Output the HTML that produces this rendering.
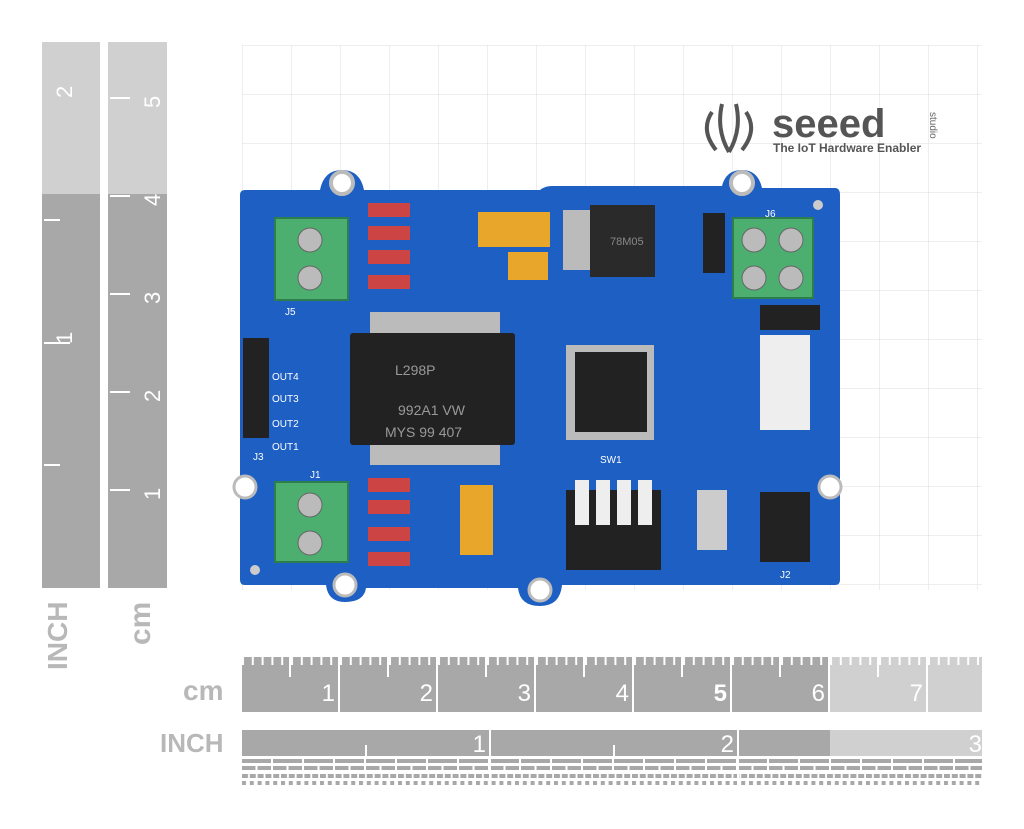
<!DOCTYPE html>
<html><head><meta charset="utf-8"><style>
html,body{margin:0;padding:0;background:#fff;}
svg{display:block}
text{font-family:"Liberation Sans",sans-serif}
</style></head><body>
<svg width="1024" height="829" viewBox="0 0 1024 829" xmlns="http://www.w3.org/2000/svg">
<defs>
<pattern id="grid" x="242" y="45" width="49" height="49" patternUnits="userSpaceOnUse">
<path d="M0 0V49M0 0H49" stroke="#dcdcdc" stroke-width="1" fill="none"/>
</pattern>
<pattern id="cmt" x="242" y="657" width="9.8" height="20" patternUnits="userSpaceOnUse">
<rect x="0" y="0" width="2" height="8" fill="#fff"/>
</pattern>
<pattern id="str" x="242" y="759" width="31" height="6" patternUnits="userSpaceOnUse">
<rect x="0" y="0" width="29" height="4" fill="#a8a8a8"/>
</pattern>
<pattern id="str2" x="242" y="766" width="15.5" height="6" patternUnits="userSpaceOnUse">
<rect x="0" y="0" width="13.5" height="4" fill="#a8a8a8"/>
</pattern>
<pattern id="str3" x="242" y="774" width="7.8" height="12" patternUnits="userSpaceOnUse">
<rect x="0" y="0" width="6" height="4" fill="#a8a8a8"/>
<rect x="0" y="7" width="4" height="4" fill="#a8a8a8"/>
</pattern>
</defs>
<rect width="1024" height="829" fill="#fff"/>
<rect x="242" y="45" width="740" height="545" fill="url(#grid)"/>

<!-- left rulers -->
<rect x="42" y="42" width="58" height="546" fill="#a8a8a8"/>
<rect x="42" y="42" width="58" height="152" fill="#d0d0d0"/>
<rect x="108" y="42" width="59" height="546" fill="#a8a8a8"/>
<rect x="108" y="42" width="59" height="152" fill="#d0d0d0"/>
<g stroke="#fff" stroke-width="2">
<line x1="110" y1="98" x2="130" y2="98"/><line x1="110" y1="196" x2="130" y2="196"/><line x1="110" y1="294" x2="130" y2="294"/><line x1="110" y1="392" x2="130" y2="392"/><line x1="110" y1="490" x2="130" y2="490"/>
<line x1="44" y1="343" x2="70" y2="343"/><line x1="44" y1="465" x2="60" y2="465"/><line x1="44" y1="220" x2="60" y2="220"/>
</g>
<g fill="#fff" font-size="22">
<text x="150" y="118" transform="rotate(-90 150 108)">5</text>
<text x="150" y="216" transform="rotate(-90 150 206)">4</text>
<text x="150" y="314" transform="rotate(-90 150 304)">3</text>
<text x="150" y="412" transform="rotate(-90 150 402)">2</text>
<text x="150" y="510" transform="rotate(-90 150 500)">1</text>
<text x="62" y="108" transform="rotate(-90 62 98)">2</text>
<text x="62" y="354" transform="rotate(-90 62 344)">1</text>
</g>
<text x="0" y="0" font-size="28" font-weight="bold" fill="#b8b8b8" transform="translate(67 670) rotate(-90)">INCH</text>
<text x="0" y="0" font-size="30" font-weight="bold" fill="#b8b8b8" transform="translate(150 645) rotate(-90)">cm</text>

<!-- bottom rulers -->
<text x="183" y="700" font-size="28" font-weight="bold" fill="#b8b8b8">cm</text>
<rect x="242" y="657" width="588" height="55" fill="#a8a8a8"/>
<rect x="830" y="657" width="152" height="55" fill="#d0d0d0"/>
<rect x="242" y="657" width="740" height="10" fill="url(#cmt)"/>
<g stroke="#fff" stroke-width="2">
<line x1="339" y1="657" x2="339" y2="712"/><line x1="437" y1="657" x2="437" y2="712"/><line x1="535" y1="657" x2="535" y2="712"/><line x1="633" y1="657" x2="633" y2="712"/><line x1="731" y1="657" x2="731" y2="712"/><line x1="829" y1="657" x2="829" y2="712"/><line x1="927" y1="657" x2="927" y2="712"/>
<line x1="290" y1="657" x2="290" y2="677"/><line x1="388" y1="657" x2="388" y2="677"/><line x1="486" y1="657" x2="486" y2="677"/><line x1="584" y1="657" x2="584" y2="677"/><line x1="682" y1="657" x2="682" y2="677"/><line x1="780" y1="657" x2="780" y2="677"/><line x1="878" y1="657" x2="878" y2="677"/>
</g>
<g fill="#fff" font-size="24" text-anchor="end">
<text x="335" y="701">1</text><text x="433" y="701">2</text><text x="531" y="701">3</text><text x="629" y="701">4</text><text x="727" y="701" font-weight="bold">5</text><text x="825" y="701">6</text><text x="923" y="701">7</text>
</g>
<text x="160" y="752" font-size="26" font-weight="bold" fill="#b8b8b8">INCH</text>
<rect x="242" y="730" width="588" height="26" fill="#a8a8a8"/>
<rect x="830" y="730" width="152" height="26" fill="#d0d0d0"/>
<rect x="242" y="759" width="740" height="6" fill="url(#str)"/>
<rect x="242" y="766" width="740" height="6" fill="url(#str2)"/>
<rect x="242" y="774" width="740" height="12" fill="url(#str3)"/>
<g stroke="#fff" stroke-width="2"><line x1="490" y1="730" x2="490" y2="785"/><line x1="738" y1="730" x2="738" y2="785"/><line x1="366" y1="745" x2="366" y2="756"/><line x1="614" y1="745" x2="614" y2="756"/></g>
<g fill="#fff" font-size="24" text-anchor="end"><text x="486" y="752">1</text><text x="734" y="752">2</text><text x="982" y="752">3</text></g>

<!-- logo -->
<g fill="none" stroke="#555" stroke-width="4"><path d="M712 112 Q700 130 716 150"/><path d="M746 112 Q758 130 742 150"/><path d="M722 104 Q716 130 729 152"/><path d="M736 104 Q742 130 729 152"/></g>
<text x="772" y="137" font-size="40" font-weight="bold" fill="#555">seeed</text>
<text x="930" y="112" font-size="10" fill="#666" transform="rotate(90 930 112)">studio</text>
<text x="773" y="152" font-size="12" font-weight="bold" fill="#555">The IoT Hardware Enabler</text>

<!-- board -->
<path d="M237 190 H320 Q324 170 342 170 Q360 170 364 190 H540 Q545 186 552 186 H722 Q726 170 742 170 Q758 170 762 188 H835 Q840 188 840 195 V580 Q840 585 835 585 H562 Q560 606 540 606 Q520 606 518 588 H366 Q364 602 345 602 Q328 602 326 585 H245 Q240 585 240 580 V195 Q240 190 245 190 Z" fill="#1e5fc4"/>
<circle cx="342" cy="183" r="11" fill="#fff" stroke="#bbb" stroke-width="4"/>
<circle cx="742" cy="183" r="11" fill="#fff" stroke="#bbb" stroke-width="4"/>
<circle cx="245" cy="487" r="11" fill="#fff" stroke="#bbb" stroke-width="3"/>
<circle cx="830" cy="487" r="11" fill="#fff" stroke="#bbb" stroke-width="3"/>
<circle cx="818" cy="205" r="5" fill="#ccc"/>
<circle cx="255" cy="570" r="5" fill="#ccc"/>
<circle cx="540" cy="590" r="11" fill="#fff" stroke="#bbb" stroke-width="3"/>
<circle cx="345" cy="585" r="11" fill="#fff" stroke="#bbb" stroke-width="3"/>
<!-- terminals -->
<g fill="#4caf70" stroke="#2e7d4c" stroke-width="2">
<rect x="275" y="218" width="73" height="82"/><rect x="275" y="482" width="73" height="80"/><rect x="733" y="218" width="80" height="80"/>
</g>
<g fill="#bbb" stroke="#666"><circle cx="310" cy="240" r="12"/><circle cx="310" cy="278" r="12"/><circle cx="310" cy="505" r="12"/><circle cx="310" cy="543" r="12"/><circle cx="754" cy="240" r="12"/><circle cx="791" cy="240" r="12"/><circle cx="754" cy="278" r="12"/><circle cx="791" cy="278" r="12"/></g>
<!-- big chip -->
<g fill="#bbb"><rect x="370" y="312" width="130" height="25"/><rect x="370" y="440" width="130" height="25"/></g>
<rect x="350" y="333" width="165" height="112" fill="#222" rx="3"/>
<g fill="#999" font-size="14"><text x="395" y="375">L298P</text><text x="398" y="415">992A1 VW</text><text x="385" y="437">MYS 99 407</text></g>
<!-- MCU -->
<rect x="566" y="345" width="88" height="95" fill="#bbb"/>
<rect x="575" y="352" width="72" height="80" fill="#222"/>
<!-- regulator -->
<rect x="563" y="210" width="35" height="60" fill="#bbb"/>
<rect x="590" y="205" width="65" height="72" fill="#2a2a2a"/>
<text x="610" y="245" font-size="11" fill="#888">78M05</text>
<rect x="703" y="213" width="22" height="60" fill="#222"/>
<!-- caps -->
<rect x="478" y="212" width="72" height="35" fill="#e8a72a"/>
<rect x="508" y="252" width="40" height="28" fill="#e8a72a"/>
<rect x="460" y="485" width="33" height="70" fill="#e8a72a"/>
<!-- headers -->
<rect x="243" y="338" width="26" height="100" fill="#222"/>
<rect x="760" y="335" width="50" height="95" fill="#eee"/>
<rect x="760" y="305" width="60" height="25" fill="#222"/>
<rect x="760" y="492" width="50" height="70" fill="#222"/>
<rect x="566" y="490" width="95" height="80" fill="#222"/>
<g fill="#eee"><rect x="575" y="480" width="14" height="45"/><rect x="596" y="480" width="14" height="45"/><rect x="617" y="480" width="14" height="45"/><rect x="638" y="480" width="14" height="45"/></g>
<rect x="697" y="490" width="30" height="60" fill="#ccc"/>
<!-- diodes -->
<g fill="#c44"><rect x="368" y="203" width="42" height="14"/><rect x="368" y="226" width="42" height="14"/><rect x="368" y="250" width="42" height="14"/><rect x="368" y="275" width="42" height="14"/><rect x="368" y="478" width="42" height="14"/><rect x="368" y="500" width="42" height="14"/><rect x="368" y="527" width="42" height="14"/><rect x="368" y="552" width="42" height="14"/></g>
<g fill="#fff" font-size="10"><text x="272" y="380">OUT4</text><text x="272" y="402">OUT3</text><text x="272" y="427">OUT2</text><text x="272" y="450">OUT1</text><text x="285" y="315">J5</text><text x="310" y="478">J1</text><text x="765" y="217">J6</text><text x="253" y="460">J3</text><text x="780" y="578">J2</text><text x="600" y="463">SW1</text></g>
</svg>
</body></html>
